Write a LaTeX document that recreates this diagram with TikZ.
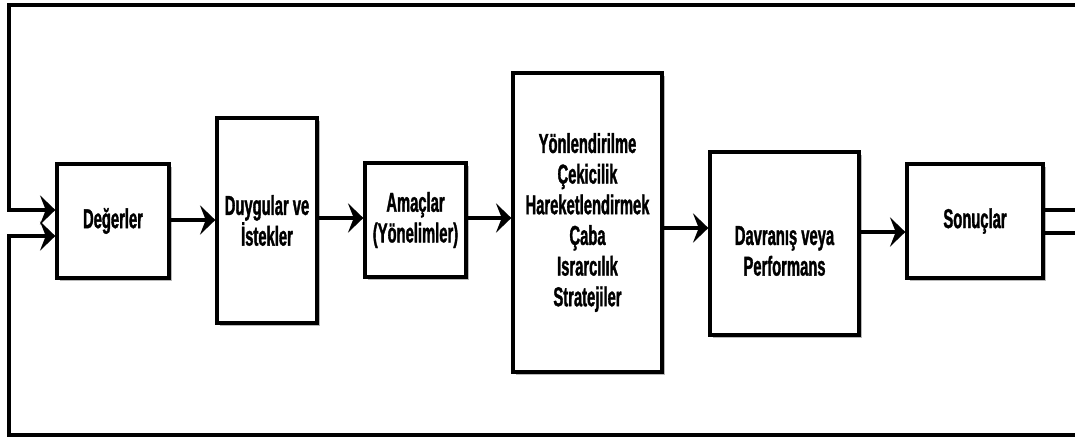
\documentclass[tikz,border=0pt]{standalone}
\usepackage{fontspec}
\newfontfamily\lbl{Liberation Sans}[FakeStretch=0.54,FakeBold=1.2]
\usetikzlibrary{arrows.meta,shadows}
\begin{document}
\begin{tikzpicture}[x=0.75pt,y=-0.75pt,
  txt/.style={align=center,inner sep=2pt,
    font=\lbl\bfseries\fontsize{20.5pt}{23pt}\selectfont},
  box/.style={txt,draw=black,line width=2.5pt,fill=white,
    drop shadow={shadow xshift=2.4pt,shadow yshift=-2.6pt,fill=black!28,opacity=1}},
  wire/.style={line width=2.5pt,line join=miter},
  arr/.style={wire,-{Stealth[length=11.5pt,width=22pt,inset=4.3pt]}}]
\useasboundingbox (0,0) rectangle (1075,439);

% process boxes
\node[box,minimum width=84pt,minimum height=85.5pt] (deg) at (113,221) {Değerler};
\node[box,minimum width=75pt,minimum height=153.75pt] (duy) at (267,220.5) {Duygular ve\\İstekler};
\node[box,minimum width=75.75pt,minimum height=85.5pt] (ama) at (415.5,220) {Amaçlar\\(Yönelimler)};
\node[box,minimum width=111.75pt,minimum height=224.25pt] (yon) at (587.5,222.5)
  {Yönlendirilme\\Çekicilik\\Hareketlendirmek\\Çaba\\Israrcılık\\Stratejiler};
\node[box,minimum width=111.75pt,minimum height=137.25pt] (dav) at (784.5,243.5) {};
\node[txt] (davtxt) at (784.5,251) {Davranış veya\\Performans};
\node[box,minimum width=102pt,minimum height=85.5pt] (son) at (975,221) {Sonuçlar};

% forward chain
\draw[arr] (deg.east |- 0,220) -- (duy.west |- 0,220);
\draw[arr] (duy.east |- 0,218) -- (ama.west |- 0,218);
\draw[arr] (ama.east |- 0,218) -- (yon.west |- 0,218);
\draw[arr] (yon.east |- 0,228) -- (dav.west |- 0,228);
\draw[arr] (dav.east |- 0,232) -- (son.west |- 0,232);

% feedback loops
\coordinate (fbtop) at (1075,5);
\coordinate (fbbot) at (1075,435);
\coordinate (inA) at (9,210);
\coordinate (inB) at (9,236);
\coordinate (outA) at (1075,210);
\coordinate (outB) at (1075,233);
\draw[arr] (fbtop) -| (inA) -- (inA -| deg.west);
\draw[arr] (fbbot) -| (inB) -- (inB -| deg.west);
\draw[wire] (son.east |- outA) -- (outA);
\draw[wire] (son.east |- outB) -- (outB);
\end{tikzpicture}
\end{document}
